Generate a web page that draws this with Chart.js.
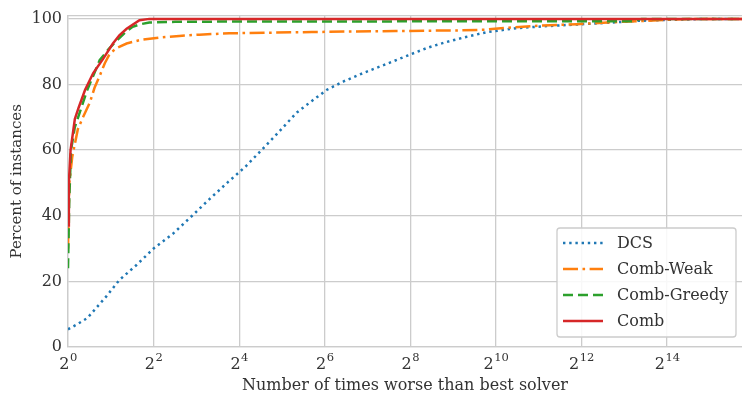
<!DOCTYPE html>
<html>
<head>
<meta charset="utf-8">
<script src="https://cdn.jsdelivr.net/npm/chart.js@4"></script>
<style>
  html, body { margin: 0; padding: 0; background: #fff; }
</style>
</head>
<body>
<canvas id="profile" width="742" height="393"></canvas>
<script>
// x values are log2 of the ratio to the best solver, y is percent of instances
const dcsX = [0, 0.2, 0.45, 0.6, 0.9, 1.2, 1.6, 2.0, 2.45, 2.9, 3.3, 3.75, 4.15, 4.55, 4.85, 5.1, 5.35, 5.7, 6.05, 6.45, 6.9, 7.45, 7.95, 8.4, 8.8, 9.3, 9.8, 10.5, 11.2, 11.9, 12.6, 13.3, 14.0, 15.0, 15.75];
const dcsY = [5.4, 6.8, 8.8, 11, 15.5, 20.4, 25, 30, 34.5, 40, 45, 50.4, 55, 60.4, 64.5, 68, 71.5, 75, 78.4, 81, 83.5, 86.3, 88.9, 91.2, 92.8, 94.5, 96, 97.2, 97.8, 98.3, 98.8, 99.4, 99.7, 100, 100];

const weakX = [0, 0.03, 0.1, 0.23, 0.35, 0.51, 0.62, 0.74, 0.86, 0.98, 1.15, 1.37, 1.7, 2.14, 2.6, 3.07, 3.77, 5.7, 7.65, 9.2, 9.74, 10.35, 11.1, 11.9, 12.6, 13.3, 14.0, 14.7, 15.75];
const weakY = [30, 50, 58, 66.4, 70, 74.5, 79, 82.6, 86.5, 89.5, 91.2, 92.5, 93.6, 94.3, 94.8, 95.2, 95.6, 96, 96.3, 96.5, 96.7, 97.4, 98, 98.4, 98.9, 99.3, 99.7, 100, 100];

const greedyX = [0, 0.03, 0.07, 0.16, 0.3, 0.44, 0.6, 0.74, 0.95, 1.14, 1.35, 1.51, 1.7, 1.9, 2.5, 4, 13.2, 13.4, 15.75];
const greedyY = [24, 45, 60, 67, 72.5, 78, 83, 87.4, 90.8, 93.4, 96, 97.6, 98.4, 98.9, 99.1, 99.2, 99.3, 100, 100];

const combX = [0, 0.02, 0.06, 0.16, 0.25, 0.4, 0.59, 0.82, 1.05, 1.2, 1.37, 1.67, 1.9, 15.75];
const combY = [37, 50, 60, 69.5, 73, 78.4, 83.5, 87.8, 92.5, 95, 97, 99.6, 100, 100];

const seriesNames = ['DCS', 'Comb-Weak', 'Comb-Greedy', 'Comb'];
const xTickPowers = [0, 2, 4, 6, 8, 10, 12, 14];
const yTicks = [0, 20, 40, 60, 80, 100];

const FAMILY = '"DejaVu Serif", serif';
const FONT = { family: FAMILY, size: 16 };
const TEXT = '#333333';
const GRID = '#cccccc';

function pts(xs, ys) {
  return xs.map((x, i) => ({ x: x, y: ys[i] }));
}

const styles = [
  { color: '#1f77b4', dash: [2.4, 3.8], order: 4 },
  { color: '#ff7f0e', dash: [15, 4.5, 2.6, 4.5], order: 3 },
  { color: '#2ca02c', dash: [10, 5], order: 2 },
  { color: '#d62728', dash: [], order: 1 }
];
const seriesData = [pts(dcsX, dcsY), pts(weakX, weakY), pts(greedyX, greedyY), pts(combX, combY)];

// top spine, the axes only give left and bottom
const frame = {
  id: 'frame',
  beforeDatasetsDraw(chart) {
    const a = chart.chartArea, ctx = chart.ctx;
    ctx.save();
    ctx.strokeStyle = GRID;
    ctx.lineWidth = 1.3;
    ctx.beginPath();
    ctx.moveTo(a.left, a.top);
    ctx.lineTo(a.right, a.top);
    ctx.stroke();
    ctx.restore();
  }
};

// x tick labels as 2 with a raised exponent
const powTicks = {
  id: 'powTicks',
  afterDraw(chart) {
    const ctx = chart.ctx, xs = chart.scales.x;
    ctx.save();
    ctx.fillStyle = TEXT;
    ctx.textBaseline = 'alphabetic';
    ctx.textAlign = 'left';
    xs.ticks.forEach(t => {
      const px = xs.getPixelForValue(t.value);
      const exp = String(t.value);
      ctx.font = '16px ' + FAMILY;
      const wBase = ctx.measureText('2').width;
      ctx.font = '11.5px ' + FAMILY;
      const wExp = ctx.measureText(exp).width;
      const left = px - (wBase + wExp) / 2;
      ctx.font = '16px ' + FAMILY;
      ctx.fillText('2', left, 369);
      ctx.font = '11.5px ' + FAMILY;
      ctx.fillText(exp, left + wBase + 0.5, 361);
    });
    ctx.restore();
  }
};

// legend box in the lower right corner, like matplotlib's
const boxLegend = {
  id: 'boxLegend',
  afterDraw(chart) {
    const ctx = chart.ctx;
    const x0 = 557, y0 = 228, w = 179, h = 109;
    ctx.save();
    ctx.fillStyle = 'rgba(255,255,255,0.85)';
    ctx.strokeStyle = GRID;
    ctx.lineWidth = 1.3;
    ctx.beginPath();
    ctx.roundRect(x0, y0, w, h, 3);
    ctx.fill();
    ctx.stroke();
    chart.data.datasets.forEach((ds, i) => {
      const cy = 243 + i * 26;
      ctx.strokeStyle = ds.borderColor;
      ctx.lineWidth = ds.borderWidth;
      ctx.setLineDash(ds.borderDash);
      ctx.lineCap = 'butt';
      ctx.beginPath();
      ctx.moveTo(563, cy);
      ctx.lineTo(603, cy);
      ctx.stroke();
      ctx.setLineDash([]);
      ctx.fillStyle = TEXT;
      ctx.font = FONT.size + 'px ' + FAMILY;
      ctx.textBaseline = 'middle';
      ctx.fillText(ds.label, 617, cy + 1);
    });
    ctx.restore();
  }
};

new Chart(document.getElementById('profile'), {
  type: 'line',
  data: {
    datasets: seriesNames.map((name, i) => ({
      label: name,
      data: seriesData[i],
      borderColor: styles[i].color,
      backgroundColor: styles[i].color,
      borderWidth: 2.5,
      borderDash: styles[i].dash,
      order: styles[i].order,
      pointRadius: 0,
      tension: 0,
      fill: false
    }))
  },
  options: {
    responsive: false,
    animation: false,
    devicePixelRatio: 1,
    layout: { padding: { top: 11, right: 0, left: 0, bottom: 0 } },
    plugins: { legend: { display: false }, tooltip: { enabled: false } },
    scales: {
      x: {
        type: 'linear',
        min: 0,
        max: 15.75,
        afterBuildTicks: s => { s.ticks = xTickPowers.map(v => ({ value: v })); },
        afterFit: s => { s.height = 46; },
        ticks: { display: false },
        grid: { color: GRID, lineWidth: 1.3, drawTicks: false },
        border: { color: GRID, width: 1.3 },
        title: { display: true, text: 'Number of times worse than best solver', font: FONT, color: TEXT, padding: { top: 0, bottom: -2 } }
      },
      y: {
        min: 0,
        max: 101,
        afterBuildTicks: s => { s.ticks = yTicks.map(v => ({ value: v })); },
        afterFit: s => { s.width = 68; },
        ticks: { font: FONT, color: TEXT, padding: 6 },
        grid: { color: GRID, lineWidth: 1.3, drawTicks: false },
        border: { color: GRID, width: 1.3 },
        title: { display: true, text: 'Percent of instances', font: { family: FAMILY, size: 15 }, color: TEXT, padding: { top: 8, bottom: 0 } }
      }
    }
  },
  plugins: [frame, powTicks, boxLegend]
});
</script>
</body>
</html>
